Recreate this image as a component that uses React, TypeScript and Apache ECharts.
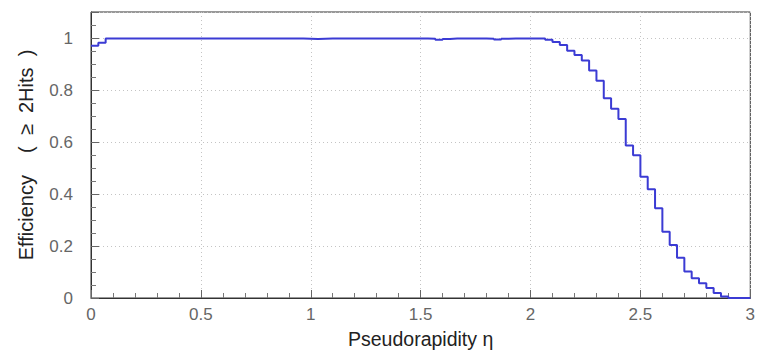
import React, { useEffect, useRef } from "react";
import * as echarts from "echarts";

// Histogram: 90 bins of width 1/30 in pseudorapidity from 0 to 3
const etaMin = 0;
const etaMax = 3;
const binWidth = 1 / 30;

const efficiency: number[] = [
  0.970, 0.982, 0.998, 0.998, 0.998, 0.998, 0.998, 0.998, 0.998, 0.998,
  0.998, 0.998, 0.998, 0.998, 0.998, 0.998, 0.998, 0.998, 0.998, 0.998,
  0.998, 0.998, 0.998, 0.998, 0.998, 0.998, 0.998, 0.998, 0.998, 0.997,
  0.996, 0.997, 0.998, 0.998, 0.998, 0.998, 0.998, 0.998, 0.998, 0.998,
  0.998, 0.998, 0.998, 0.998, 0.998, 0.998, 0.997, 0.993, 0.996, 0.998,
  0.998, 0.998, 0.998, 0.998, 0.997, 0.994, 0.997, 0.998, 0.998, 0.998,
  0.998, 0.998, 0.993, 0.985, 0.973, 0.951, 0.935, 0.913, 0.875, 0.836,
  0.768, 0.728, 0.688, 0.587, 0.549, 0.466, 0.418, 0.345, 0.255, 0.204,
  0.155, 0.102, 0.076, 0.057, 0.038, 0.019, 0.006, 0.0, 0.0, 0.0,
];

const xTickInterval = 0.5;
const yTickInterval = 0.2;
const yMax = 1.1;

const xTitle = "Pseudorapidity η";
const yTitle = "Efficiency    (  ≥  2Hits  )";

export default function App() {
  const ref = useRef<HTMLDivElement>(null);

  useEffect(() => {
    if (!ref.current) return;
    const chart = echarts.init(ref.current, undefined, { renderer: "svg" });

    const points: [number, number][] = efficiency.map((v, i) => [etaMin + i * binWidth, v]);
    points.push([etaMax, efficiency[efficiency.length - 1]]);

    const font = "'Liberation Sans', Arial, sans-serif";

    chart.setOption({
      animation: false,
      backgroundColor: "#ffffff",
      grid: {
        left: 91,
        right: 6,
        top: 12,
        bottom: 54,
        show: true,
        borderColor: "#333333",
        borderWidth: 1,
        backgroundColor: "transparent",
      },
      xAxis: {
        type: "value",
        min: etaMin,
        max: etaMax,
        interval: xTickInterval,
        name: xTitle,
        nameLocation: "middle",
        nameGap: 31,
        nameTextStyle: { fontSize: 19.5, color: "#222222", fontFamily: font },
        axisLine: { show: true, lineStyle: { color: "#333333", width: 1 } },
        axisTick: { show: true, inside: true, length: 8, lineStyle: { color: "#666666" } },
        minorTick: { show: true, splitNumber: 5, length: 5, lineStyle: { color: "#777777" } },
        axisLabel: {
          color: "#666666",
          fontSize: 17,
          fontFamily: font,
          margin: 8,
          formatter: (v: number) => String(v),
        },
        splitLine: { show: true, lineStyle: { color: "#c4c4c4", type: [1, 3], width: 1 } },
      },
      yAxis: {
        type: "value",
        min: 0,
        max: yMax,
        interval: yTickInterval,
        name: yTitle,
        nameLocation: "middle",
        nameGap: 55,
        nameTextStyle: { fontSize: 20, color: "#222222", fontFamily: font },
        axisLine: { show: true, lineStyle: { color: "#333333", width: 1 } },
        axisTick: { show: true, inside: true, length: 8, lineStyle: { color: "#666666" } },
        minorTick: { show: true, splitNumber: 4, length: 5, lineStyle: { color: "#777777" } },
        axisLabel: {
          color: "#666666",
          fontSize: 17,
          fontFamily: font,
          margin: 18,
          showMaxLabel: false,
          formatter: (v: number) => (v > 1.05 ? "" : String(Math.round(v * 10) / 10)),
        },
        splitLine: { show: true, lineStyle: { color: "#c4c4c4", type: [1, 3], width: 1 } },
      },
      series: [
        {
          type: "line",
          step: "end",
          data: points,
          symbol: "none",
          lineStyle: { color: "#3b3bd4", width: 2 },
        },
      ],
    });

    return () => chart.dispose();
  }, []);

  return (
    <div
      ref={ref}
      style={{ position: "fixed", left: 0, top: 0, width: 758, height: 354, background: "#fff" }}
    />
  );
}
